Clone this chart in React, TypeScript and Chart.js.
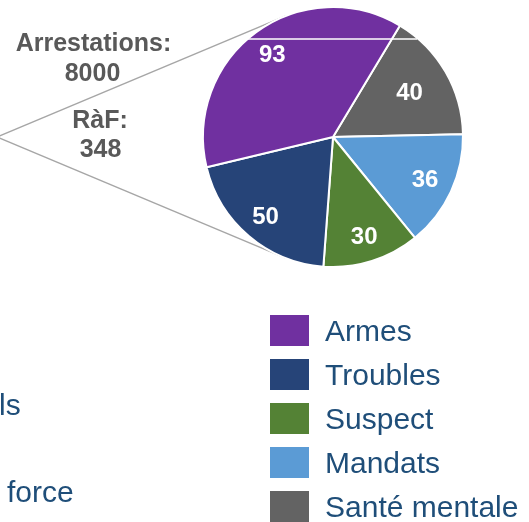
import React, { useEffect, useRef } from "react";
import { Chart, registerables } from "chart.js";

Chart.register(...registerables);

// Data (legend order)
const categories = ["Armes", "Troubles", "Suspect", "Mandats", "Santé mentale"];
const values = [93, 50, 30, 36, 40];
const colors = ["#7030A0", "#264478", "#548235", "#5B9BD5", "#636363"];

// Annotation texts
const calloutLines = ["Arrestations:", "8000", "RàF:", "348"];
const leftFragments = ["ls", "force"];

// The slices run counter-clockwise in legend order -> feed Chart.js the reverse
const pieLabels = [...categories].reverse();
const pieValues = [...values].reverse();
const pieColors = [...colors].reverse();

const FONT = '"Liberation Sans", Arial, "DejaVu Sans", sans-serif';

const decorPlugin = {
  id: "decor",
  beforeDatasetsDraw(chart: any) {
    const ctx = chart.ctx;
    const arc = chart.getDatasetMeta(0).data[0];
    if (!arc) return;
    const cx = arc.x, cy = arc.y, r = arc.outerRadius;
    const ax = -3, ay = 137;
    const dx = cx - ax, dy = cy - ay;
    const d = Math.sqrt(dx * dx + dy * dy);
    const base = Math.atan2(dy, dx);
    const off = Math.asin(r / d);
    const len = Math.sqrt(d * d - r * r);
    ctx.save();
    ctx.strokeStyle = "#A6A6A6";
    ctx.lineWidth = 1.5;
    for (const s of [-1, 1]) {
      const a = base + s * off;
      ctx.beginPath();
      ctx.moveTo(ax, ay);
      ctx.lineTo(ax + Math.cos(a) * (len + 4), ay + Math.sin(a) * (len + 4));
      ctx.stroke();
    }
    ctx.restore();
  },
  afterDatasetsDraw(chart: any) {
    const ctx = chart.ctx;
    const meta = chart.getDatasetMeta(0);
    const ds = chart.data.datasets[0];
    // slice values
    const radFrac = [0.68, 0.78, 0.8, 0.8, 0.79];
    ctx.save();
    ctx.fillStyle = "#FFFFFF";
    ctx.font = `bold 24px ${FONT}`;
    ctx.textAlign = "center";
    ctx.textBaseline = "middle";
    meta.data.forEach((el: any, i: number) => {
      const mid = (el.startAngle + el.endAngle) / 2;
      const rr = el.outerRadius * radFrac[i];
      ctx.fillText(String(ds.data[i]), el.x + Math.cos(mid) * rr, el.y + Math.sin(mid) * rr + 1);
    });
    // thin white artifact line across top of pie
    ctx.strokeStyle = "#FFFFFF";
    ctx.lineWidth = 1.5;
    ctx.beginPath();
    ctx.moveTo(247, 39);
    ctx.lineTo(417, 39);
    ctx.stroke();
    ctx.restore();
  },
  afterDraw(chart: any) {
    const ctx = chart.ctx;
    ctx.save();
    // callout texts
    ctx.fillStyle = "#595959";
    ctx.font = `bold 25px ${FONT}`;
    ctx.textAlign = "center";
    ctx.textBaseline = "alphabetic";
    const pos = [
      [93.5, 51],
      [92.5, 81],
      [100, 128],
      [100.5, 157],
    ];
    calloutLines.forEach((t, i) => ctx.fillText(t, pos[i][0], pos[i][1]));

    // legend
    ctx.font = `30px ${FONT}`;
    ctx.textAlign = "left";
    categories.forEach((c, i) => {
      const yc = 330.5 + i * 44;
      ctx.fillStyle = colors[i];
      ctx.fillRect(270, yc - 15.5, 39, 31);
      ctx.fillStyle = "#1F4E79";
      ctx.fillText(c, 325, yc + 10);
    });

    // cut-off fragments on the left
    ctx.fillStyle = "#1F4E79";
    ctx.fillText(leftFragments[0], -1, 415);
    ctx.fillText(leftFragments[1], 7, 502);
    ctx.restore();
  },
};

export default function App() {
  const ref = useRef<HTMLCanvasElement | null>(null);
  useEffect(() => {
    if (!ref.current) return;
    const chart = new Chart(ref.current, {
      type: "pie",
      data: {
        labels: pieLabels,
        datasets: [
          {
            data: pieValues,
            backgroundColor: pieColors,
            borderColor: "#FFFFFF",
            borderWidth: 2,
          },
        ],
      },
      options: {
        responsive: false,
        animation: false,
        rotation: 31,
        layout: { padding: { left: 202, top: 6, right: 65, bottom: 254 } },
        plugins: {
          legend: { display: false },
          tooltip: { enabled: false },
        },
      },
      plugins: [decorPlugin],
    });
    return () => chart.destroy();
  }, []);
  return (
    <div style={{ position: "fixed", left: 0, top: 0, width: 529, height: 522, background: "#fff" }}>
      <canvas ref={ref} width={529} height={522} style={{ display: "block" }} />
    </div>
  );
}
